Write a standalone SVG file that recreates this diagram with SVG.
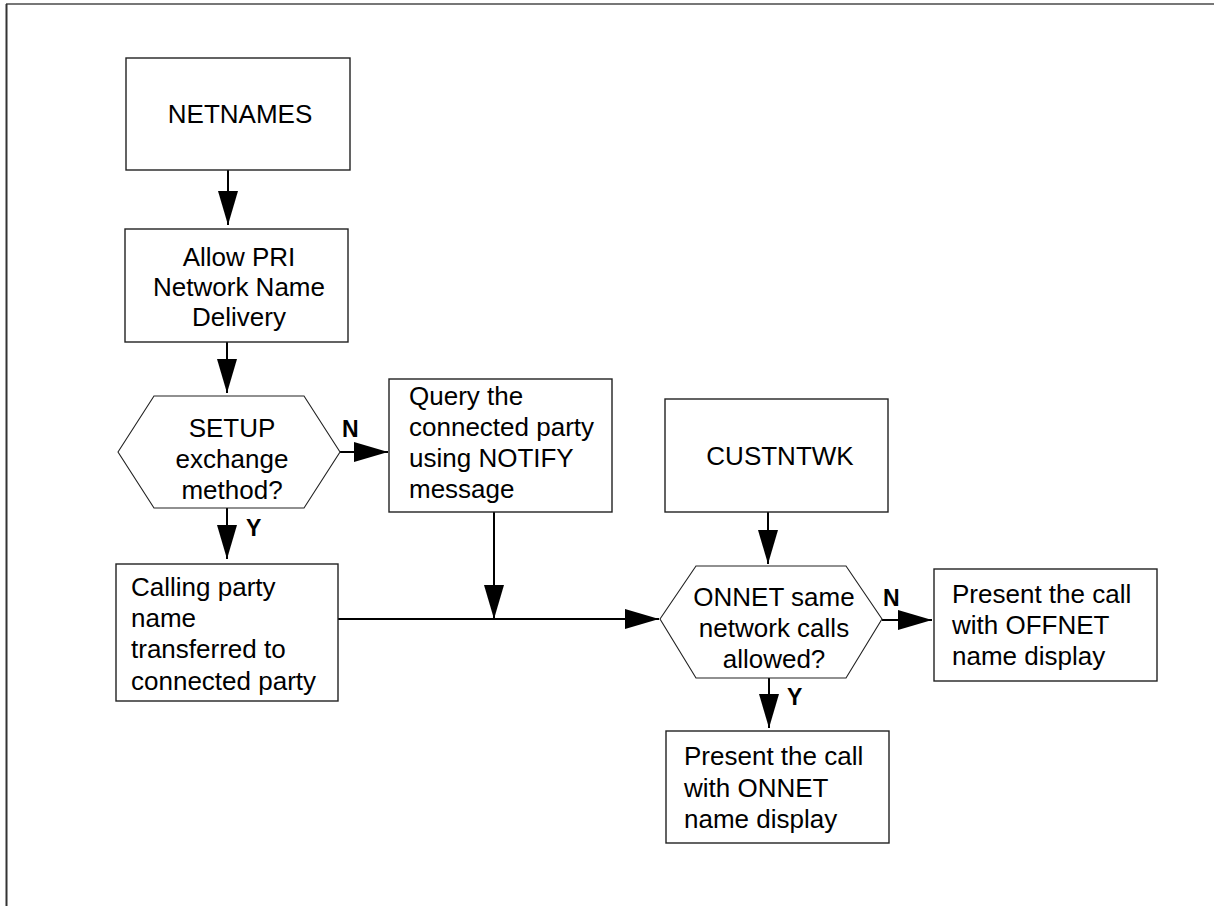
<svg xmlns="http://www.w3.org/2000/svg" width="1214" height="906" viewBox="0 0 1214 906">
  <style>
    .box { fill: #ffffff; stroke: #222222; stroke-width: 1.4; }
    .hex { fill: #ffffff; stroke: #222222; stroke-width: 1.1; }
    .txt { font-family: "Liberation Sans", Arial, sans-serif; font-size: 26px; fill: #000000; }
    .mid { text-anchor: middle; }
    .lbl { font-family: "Liberation Sans", Arial, sans-serif; font-size: 23px; font-weight: bold; fill: #000000; }
    .wire { fill: none; stroke: #000000; stroke-width: 2; }
    .arrow { marker-end: url(#head); }
  </style>
  <defs>
    <marker id="head" markerUnits="userSpaceOnUse" markerWidth="34" markerHeight="20" refX="34" refY="10" orient="auto">
      <path d="M0,0 L34,10 L0,20 Z" fill="#000000"/>
    </marker>
  </defs>

  <rect width="1214" height="906" fill="#ffffff"/>

  <!-- page frame -->
  <g id="frame">
    <line x1="6" y1="4" x2="1214" y2="4" stroke="#777777" stroke-width="2"/>
    <line x1="6.5" y1="4" x2="6.5" y2="906" stroke="#333333" stroke-width="2"/>
  </g>

  <!-- connectors -->
  <g id="connectors">
    <line class="wire arrow" x1="228" y1="170" x2="228" y2="225"/>
    <line class="wire arrow" x1="227" y1="342" x2="227" y2="393"/>
    <line class="wire arrow" x1="340" y1="452" x2="388" y2="452"/>
    <line class="wire arrow" x1="227" y1="508" x2="227" y2="559"/>
    <line class="wire arrow" x1="494" y1="512" x2="494" y2="619"/>
    <line class="wire arrow" x1="338" y1="619" x2="659" y2="619"/>
    <line class="wire arrow" x1="768" y1="512" x2="768" y2="564"/>
    <line class="wire arrow" x1="882" y1="620" x2="932" y2="620"/>
    <line class="wire arrow" x1="769" y1="678" x2="769" y2="728"/>
    <text class="lbl" x="342" y="437">N</text>
    <text class="lbl" x="246" y="536">Y</text>
    <text class="lbl" x="883" y="606">N</text>
    <text class="lbl" x="787" y="705">Y</text>
  </g>

  <g id="netnames">
    <rect class="box" x="126" y="58" width="224" height="112"/>
    <text class="txt mid" x="240" y="123">NETNAMES</text>
  </g>

  <g id="allow-pri">
    <rect class="box" x="125" y="229" width="223" height="113"/>
    <text class="txt mid" x="239" y="266">Allow PRI</text>
    <text class="txt mid" x="239" y="296">Network Name</text>
    <text class="txt mid" x="239" y="326">Delivery</text>
  </g>

  <g id="setup-decision">
    <polygon class="hex" points="118,452 154,396 304,396 340,452 304,508 154,508"/>
    <text class="txt mid" x="232" y="437">SETUP</text>
    <text class="txt mid" x="232" y="468">exchange</text>
    <text class="txt mid" x="232" y="499">method?</text>
  </g>

  <g id="query-notify">
    <rect class="box" x="389" y="379" width="223" height="133"/>
    <text class="txt" x="409" y="405">Query the</text>
    <text class="txt" x="409" y="436">connected party</text>
    <text class="txt" x="409" y="467">using NOTIFY</text>
    <text class="txt" x="409" y="498">message</text>
  </g>

  <g id="calling-party">
    <rect class="box" x="116" y="564" width="222" height="137"/>
    <text class="txt" x="131" y="596">Calling party</text>
    <text class="txt" x="131" y="627">name</text>
    <text class="txt" x="131" y="658">transferred to</text>
    <text class="txt" x="131" y="690">connected party</text>
  </g>

  <g id="custntwk">
    <rect class="box" x="665" y="399" width="223" height="113"/>
    <text class="txt mid" x="780" y="465">CUSTNTWK</text>
  </g>

  <g id="onnet-decision">
    <polygon class="hex" points="660,619 696,566 846,566 882,619 846,678 696,678"/>
    <text class="txt mid" x="774" y="606">ONNET same</text>
    <text class="txt mid" x="774" y="637">network calls</text>
    <text class="txt mid" x="774" y="668">allowed?</text>
  </g>

  <g id="offnet-display">
    <rect class="box" x="934" y="569" width="223" height="112"/>
    <text class="txt" x="952" y="603">Present the call</text>
    <text class="txt" x="952" y="634">with OFFNET</text>
    <text class="txt" x="952" y="665">name display</text>
  </g>

  <g id="onnet-display">
    <rect class="box" x="666" y="731" width="223" height="112"/>
    <text class="txt" x="684" y="765">Present the call</text>
    <text class="txt" x="684" y="797">with ONNET</text>
    <text class="txt" x="684" y="828">name display</text>
  </g>
</svg>
